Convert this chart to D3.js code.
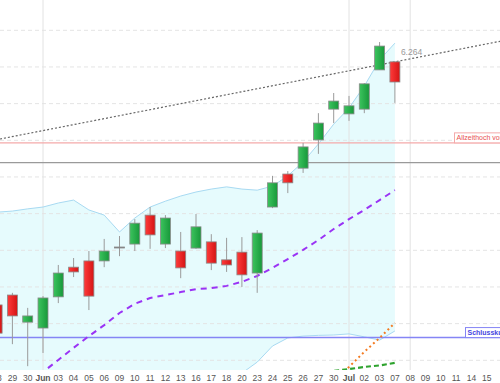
<!DOCTYPE html>
<html><head><meta charset="utf-8">
<script src="https://cdn.jsdelivr.net/npm/d3@7"></script>
<style>html,body{margin:0;padding:0;background:#fff;}svg{display:block;font-family:"Liberation Sans",Arial,sans-serif;}</style>
</head><body>
<script>
// slot labels (trading days, incl. future slots)
const slotLabels = ["28","29","30","Jun","03","04","05","06","09","10","11","12","13","16","17","18","20","23","24","25","26","27","30","Jul","02","03","07","08","09","10","11","14","15"];
const monthSlots = ["Jun","Jul"];
// candles (indices 0..26)
const open  = [5.601,5.628,5.554,5.538,5.623,5.704,5.721,5.721,5.759,5.767,5.846,5.767,5.748,5.756,5.773,5.724,5.745,5.688,5.868,5.958,5.974,6.051,6.135,6.122,6.135,6.242,6.264];
const high  = [5.614,5.634,5.593,5.625,5.710,5.729,5.748,5.781,5.789,5.835,5.868,5.846,5.800,5.849,5.794,5.784,5.786,5.805,5.953,5.966,6.043,6.124,6.179,6.171,6.206,6.318,6.264];
const low   = [5.505,5.494,5.434,5.470,5.606,5.677,5.587,5.704,5.734,5.748,5.754,5.756,5.674,5.754,5.696,5.691,5.650,5.634,5.865,5.906,5.961,6.013,6.097,6.103,6.124,6.242,6.152];
const close = [5.524,5.571,5.571,5.620,5.688,5.691,5.625,5.748,5.759,5.824,5.792,5.838,5.702,5.814,5.715,5.710,5.683,5.797,5.934,5.934,6.032,6.097,6.157,6.144,6.204,6.307,6.209];
// Bollinger bands
const upperBand = [5.854,5.857,5.863,5.868,5.879,5.887,5.860,5.846,5.800,5.838,5.868,5.884,5.898,5.909,5.917,5.923,5.917,5.914,5.925,5.953,5.991,6.040,6.094,6.138,6.198,6.269,6.315];
const lowerBand = [5.364,5.358,5.353,5.347,5.353,5.364,5.374,5.383,5.402,5.391,5.380,5.374,5.374,5.380,5.385,5.396,5.415,5.445,5.489,5.511,5.516,5.518,5.519,5.522,5.514,5.505,5.530];
// moving averages
const maPurple = [5.314,5.347,5.383,5.418,5.451,5.484,5.516,5.546,5.579,5.604,5.620,5.628,5.636,5.644,5.647,5.653,5.664,5.680,5.702,5.726,5.751,5.778,5.808,5.835,5.860,5.887,5.914];
const maOrangeStart = 21;
const maOrange = [5.355,5.394,5.432,5.473,5.511,5.552];
const maGreenStart = 21;
const maGreen = [5.415,5.421,5.426,5.432,5.436,5.443];
// horizontal levels
const athLevel = 6.043, athLabel = "Allzeithoch vom";
const grayLevel = 5.989;
const closeLevel = 5.512, closeLabel = "Schlusskurs";
// trend line anchors [slot index, value]
const trendPts = [[0, 6.052],[26, 6.264]];
const trendLabel = "6.264";
const gridValues = [5.45,5.55,5.65,5.75,5.85,5.95,6.05,6.15,6.25,6.35];

const W = 500, H = 383, plotB = 370;
const x = d3.scaleLinear().domain([0, 32]).range([-2.9, 486.7]);
const y = d3.scaleLinear().domain([5.45, 6.35]).range([360.3, 30.3]);

const svg = d3.select("body").append("svg").attr("width", W).attr("height", H);
const defs = svg.append("defs");
defs.append("clipPath").attr("id","clip").append("rect").attr("x",0).attr("y",0).attr("width",W).attr("height",plotB);
const gG = defs.append("linearGradient").attr("id","gGreen");
gG.append("stop").attr("offset","0%").attr("stop-color","#3cc45e");
gG.append("stop").attr("offset","100%").attr("stop-color","#17983a");
const gR = defs.append("linearGradient").attr("id","gRed");
gR.append("stop").attr("offset","0%").attr("stop-color","#ff3b3b");
gR.append("stop").attr("offset","100%").attr("stop-color","#d41414");

const plot = svg.append("g").attr("clip-path","url(#clip)");
const idx = d3.range(open.length);

// bollinger fill
plot.append("path").datum(idx)
  .attr("d", d3.area().x(i=>x(i)).y0(i=>y(lowerBand[i])).y1(i=>y(upperBand[i])))
  .attr("fill","#e6fbfd");

// grid
plot.selectAll(".hg").data(gridValues).join("line")
  .attr("x1",0).attr("x2",W).attr("y1",d=>y(d)).attr("y2",d=>y(d))
  .attr("stroke","#e4e4e4").attr("stroke-width",1).attr("stroke-dasharray","4,3");
const vLines = [slotLabels.indexOf("Jun"), slotLabels.indexOf("Jul"), open.length];
plot.selectAll(".vg").data(vLines).join("line")
  .attr("x1",d=>x(d)).attr("x2",d=>x(d)).attr("y1",0).attr("y2",plotB)
  .attr("stroke","#e2e2e2").attr("stroke-width",1);

// band lines
const bandLine = arr => d3.line().x(i=>x(i)).y(i=>y(arr[i]));
plot.append("path").datum(idx).attr("d", bandLine(upperBand)).attr("fill","none").attr("stroke","#a8daf2").attr("stroke-width",1);
plot.append("path").datum(idx).attr("d", bandLine(lowerBand)).attr("fill","none").attr("stroke","#a8daf2").attr("stroke-width",1);

// horizontal levels
plot.append("line").attr("x1",0).attr("x2",W).attr("y1",y(athLevel)).attr("y2",y(athLevel)).attr("stroke","#f4aaaa").attr("stroke-width",1.2);
plot.append("line").attr("x1",0).attr("x2",W).attr("y1",y(grayLevel)).attr("y2",y(grayLevel)).attr("stroke","#9a9a9a").attr("stroke-width",1.4);
plot.append("line").attr("x1",0).attr("x2",W).attr("y1",y(closeLevel)).attr("y2",y(closeLevel)).attr("stroke","#8585f5").attr("stroke-width",1.4);

// moving averages
plot.append("path").datum(idx).attr("d", bandLine(maPurple)).attr("fill","none")
  .attr("stroke","#9a33f5").attr("stroke-width",2).attr("stroke-dasharray","6,5");
plot.append("path").datum(maOrange.map((v,k)=>[maOrangeStart+k,v]))
  .attr("d", d3.line().x(d=>x(d[0])).y(d=>y(d[1]))).attr("fill","none")
  .attr("stroke","#f47a20").attr("stroke-width",2).attr("stroke-dasharray","2,3");
plot.append("path").datum(maGreen.map((v,k)=>[maGreenStart+k,v]))
  .attr("d", d3.line().x(d=>x(d[0])).y(d=>y(d[1]))).attr("fill","none")
  .attr("stroke","#2ea32e").attr("stroke-width",2.2).attr("stroke-dasharray","5,3");

// trend line (extended over the full width)
const slope = (trendPts[1][1]-trendPts[0][1])/(trendPts[1][0]-trendPts[0][0]);
const tAt = i => trendPts[0][1] + slope*(i - trendPts[0][0]);
const tx0 = x.invert(0), tx1 = x.invert(W);
plot.append("line").attr("x1",0).attr("x2",W).attr("y1",y(tAt(tx0))).attr("y2",y(tAt(tx1)))
  .attr("stroke","#666").attr("stroke-width",1.2).attr("stroke-dasharray","2,2");

// candles
const bw = 10;
const c = plot.selectAll(".c").data(idx).join("g");
c.append("line").attr("x1",i=>x(i)).attr("x2",i=>x(i)).attr("y1",i=>y(high[i])).attr("y2",i=>y(low[i]))
  .attr("stroke","#9a9a9a").attr("stroke-width",1);
c.append("rect")
  .attr("x",i=>x(i)-bw/2).attr("width",bw)
  .attr("y",i=>y(Math.max(open[i],close[i])))
  .attr("height",i=>Math.max(1, Math.abs(y(open[i])-y(close[i]))))
  .attr("fill",i=>close[i]>open[i]?"url(#gGreen)":(close[i]<open[i]?"url(#gRed)":"#777"))
  .attr("stroke","#8a8a8a").attr("stroke-width",0.8);

// labels
svg.append("text").attr("x",x(open.length-1)+6).attr("y",y(tAt(open.length-1))-7)
  .attr("font-size",8.5).attr("fill","#999").text(trendLabel);

svg.append("rect").attr("x",454.5).attr("y",y(athLevel)-10).attr("width",60).attr("height",10)
  .attr("fill","#fff").attr("stroke","#f4aaaa").attr("stroke-width",1);
svg.append("text").attr("x",456.5).attr("y",y(athLevel)-2.5).attr("font-size",7).attr("fill","#e85050").text(athLabel);

svg.append("rect").attr("x",465.5).attr("y",y(closeLevel)-10).attr("width",50).attr("height",10)
  .attr("fill","#fff").attr("stroke","#8585f5").attr("stroke-width",1);
svg.append("text").attr("x",467.5).attr("y",y(closeLevel)-2.5).attr("font-size",7).attr("font-weight","bold").attr("fill","#4646e0").text(closeLabel);

// x axis labels
svg.selectAll(".xl").data(slotLabels).join("text")
  .attr("x",(d,i)=>x(i)).attr("y",381).attr("text-anchor","middle")
  .attr("font-size",8.5).attr("fill","#555")
  .attr("font-weight",d=>monthSlots.includes(d)?"bold":"normal")
  .text(d=>d);
</script>
</body></html>
